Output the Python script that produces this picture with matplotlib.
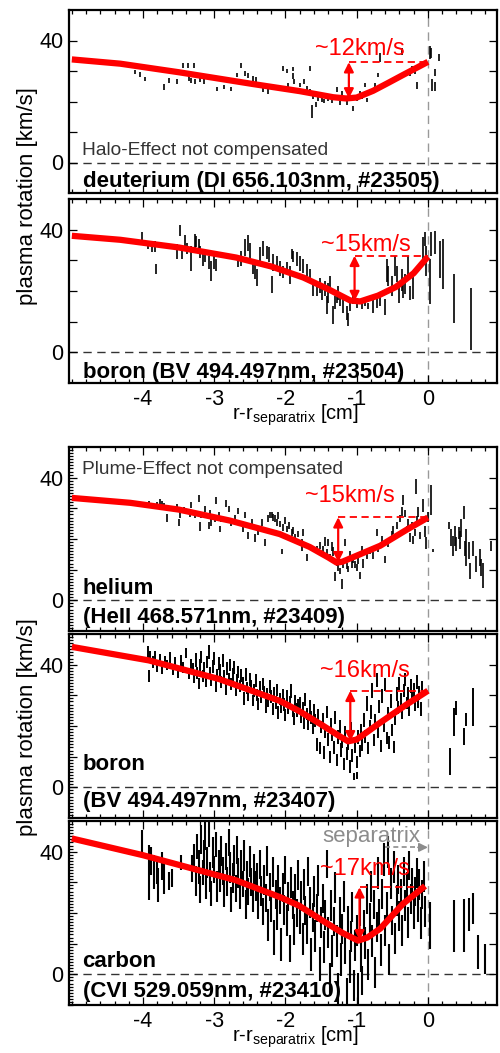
import numpy as np
import matplotlib.pyplot as plt
from matplotlib.ticker import MultipleLocator

plt.rcParams['font.family'] = ['Liberation Sans', 'DejaVu Sans']
plt.rcParams['mathtext.fontset'] = 'custom'
plt.rcParams['mathtext.rm'] = 'Liberation Sans'
plt.rcParams['axes.unicode_minus'] = False

# ---------------- panel 1: deuterium #23505 ----------------
d_x = [-4.11, -4.05, -3.97, -3.71, -3.63, -3.53, -3.44, -3.37, -3.36, -3.32,
       -3.28, -3.27, -3.20, -3.15, -2.96, -2.86, -2.77, -2.68, -2.63, -2.57,
       -2.52, -2.46, -2.41, -2.31, -2.24, -2.04, -1.98, -1.96, -1.90, -1.89,
       -1.88, -1.80, -1.74, -1.70, -1.66, -1.65, -1.63, -1.61, -1.57, -1.55,
       -1.49, -1.46, -1.40, -1.35, -1.28, -1.24, -1.21, -1.14, -1.05, -1.00,
       -0.96, -0.93, -0.88, -0.86, -0.81, -0.74, -0.70, -0.67, -0.36, -0.25,
       -0.22, -0.18, -0.16, 0.03, 0.05, 0.06, 0.10, 0.10, 0.16]
d_y = [29.6, 28.9, 27.4, 24.9, 27.0, 26.6, 31.7, 31.9, 27.6, 27.0,
       31.9, 26.5, 26.9, 26.5, 24.2, 24.7, 24.1, 28.7, 31.9, 29.2,
       28.4, 27.6, 27.3, 23.8, 23.4, 30.8, 30.1, 25.4, 28.4, 30.7,
       26.7, 25.4, 26.5, 24.3, 30.8, 23.5, 16.7, 21.6, 18.9, 21.1,
       20.7, 20.2, 21.0, 20.3, 23.8, 19.6, 22.7, 19.7, 17.8, 21.1,
       22.7, 21.6, 25.4, 20.5, 23.5, 25.4, 28.7, 34.4, 36.5, 29.2,
       30.8, 29.8, 25.2, 36.0, 36.0, 25.4, 29.5, 24.9, 34.4]
d_e = [0.7, 0.8, 0.65, 1.0, 0.8, 0.7, 0.8, 0.8, 0.8, 0.8,
       0.8, 0.8, 0.65, 0.8, 0.7, 0.65, 0.8, 0.8, 0.8, 0.8,
       0.8, 0.8, 0.8, 0.8, 0.9, 0.8, 0.65, 0.8, 0.9, 0.7,
       0.8, 0.8, 0.8, 0.8, 0.7, 0.75, 2.2, 0.8, 0.8, 0.8,
       0.7, 0.65, 0.7, 0.75, 0.8, 0.7, 0.8, 0.8, 0.8, 0.8,
       0.8, 0.8, 0.8, 0.8, 0.75, 0.8, 0.8, 1.6, 1.1, 0.8,
       0.8, 0.8, 1.1, 2.2, 1.6, 1.9, 1.1, 1.4, 1.1]
d_fx = [-5.0, -4.32, -3.5, -2.45, -1.8, -1.33, -1.15, -1.0, -0.77, -0.55, -0.35, 0.0]
d_fy = [33.8, 32.4, 29.6, 25.7, 23.4, 21.4, 21.0, 21.3, 23.5, 26.2, 28.7, 33.0]

# ---------------- panel 2: boron #23504 ----------------
b1_x = [-4.02, -3.93, -3.88, -3.83, -3.82, -3.53, -3.48, -3.46, -3.41, -3.39,
        -3.32, -3.27, -3.25, -3.22, -3.20, -3.16, -3.13, -3.08, -3.04, -3.01,
        -2.97, -2.66, -2.62, -2.57, -2.52, -2.50, -2.45, -2.43, -2.40, -2.36,
        -2.31, -2.26, -2.23, -2.19, -2.17, -2.12, -2.08, -2.03, -1.98, -1.94,
        -1.91, -1.89, -1.84, -1.80, -1.75, -1.70, -1.66, -1.61, -1.56, -1.52,
        -1.49, -1.45, -1.42, -1.40, -1.37, -1.33, -1.31, -1.28, -1.26, -1.24,
        -1.19, -1.14, -1.12, -1.10, -1.05, -1.00, -0.93, -0.89, -0.84, -0.77,
        -0.72, -0.67, -0.60, -0.58, -0.56, -0.51, -0.46, -0.44, -0.40, -0.37,
        -0.35, -0.32, -0.28, -0.25, -0.21, -0.07, -0.04, -0.02, 0.03, 0.05,
        0.10, 0.17, 0.21, 0.36, 0.60]
b1_y = [37.9, 35.0, 34.2, 34.5, 27.1, 32.8, 39.8, 32.0, 35.6, 33.9,
        30.7, 36.1, 36.1, 34.8, 32.8, 30.4, 30.7, 29.3, 26.6, 29.3,
        28.5, 29.6, 30.7, 34.2, 35.6, 33.1, 27.9, 26.3, 24.4, 31.5,
        33.9, 32.6, 31.8, 22.2, 29.3, 29.3, 27.4, 26.3, 27.4, 25.2,
        32.0, 31.2, 30.4, 29.0, 28.2, 26.8, 24.9, 20.6, 20.0, 21.9,
        19.4, 20.8, 15.4, 19.4, 22.5, 12.1, 16.2, 18.1, 19.4, 17.3,
        15.1, 12.9, 10.7, 15.4, 17.0, 16.2, 15.4, 16.2, 15.1, 15.1,
        16.5, 16.5, 14.8, 26.6, 24.9, 21.6, 28.2, 25.5, 19.4, 23.5,
        21.1, 22.2, 28.2, 19.4, 21.9, 33.9, 36.9, 29.8, 23.0, 35.3,
        35.8, 30.4, 28.7, 17.5, 11.0]
b1_e = [1.5, 1.4, 1.6, 1.9, 1.6, 2.5, 1.75, 1.6, 2.5, 1.9,
        4.1, 2.5, 1.9, 2.2, 1.9, 2.2, 1.4, 2.2, 3.3, 2.2,
        1.9, 1.9, 2.5, 2.7, 2.5, 2.7, 2.5, 2.5, 2.7, 2.7,
        2.5, 2.2, 2.5, 2.7, 2.7, 2.2, 2.5, 1.9, 1.9, 3.0,
        1.6, 1.9, 2.2, 2.5, 2.2, 1.9, 2.2, 2.2, 1.6, 2.5,
        2.2, 2.5, 3.0, 3.3, 2.5, 3.0, 2.2, 1.9, 2.2, 2.2,
        2.2, 2.2, 2.2, 1.9, 1.4, 1.6, 1.4, 1.1, 1.1, 2.2,
        1.9, 1.4, 2.5, 3.8, 3.3, 3.3, 3.3, 2.7, 3.3, 3.6,
        3.3, 3.3, 3.3, 2.2, 4.6, 3.6, 2.2, 4.9, 7.4, 3.8,
        3.8, 6.0, 8.2, 7.9, 10.1]
b1_fx = [-5.0, -4.32, -3.5, -2.69, -2.2, -1.75, -1.4, -1.09, -0.95, -0.7, -0.45, -0.2, 0.0]
b1_fy = [38.0, 36.7, 34.2, 30.9, 28.0, 24.4, 20.6, 16.9, 16.6, 18.5, 21.3, 25.8, 31.2]

# ---------------- panel 3: helium #23409 ----------------
he_x = [-3.92, -3.88, -3.81, -3.76, -3.74, -3.71, -3.67, -3.62, -3.53, -3.50,
        -3.48, -3.43, -3.34, -3.32, -3.27, -3.22, -3.20, -3.18, -3.13, -3.08,
        -3.06, -3.04, -2.99, -2.97, -2.94, -2.92, -2.90, -2.83, -2.80, -2.76,
        -2.71, -2.66, -2.59, -2.57, -2.52, -2.47, -2.43, -2.38, -2.33, -2.29,
        -2.24, -2.22, -2.19, -2.17, -2.15, -2.12, -2.10, -2.08, -2.05, -2.04,
        -2.01, -1.98, -1.95, -1.91, -1.89, -1.87, -1.82, -1.77, -1.75, -1.70,
        -1.56, -1.52, -1.47, -1.45, -1.42, -1.40, -1.38, -1.35, -1.33, -1.31,
        -1.28, -1.26, -1.23, -1.21, -1.19, -1.165, -1.14, -1.12, -1.095, -1.07,
        -1.05, -1.02, -1.00, -0.98, -0.955, -0.93, -0.91, -0.86, -0.81, -0.77,
        -0.72, -0.70, -0.65, -0.60, -0.56, -0.51, -0.49, -0.44, -0.39, -0.37,
        -0.35, -0.32, -0.30, -0.28, -0.25, -0.23, -0.21, -0.18, -0.17, -0.16,
        -0.135, -0.11, -0.065, -0.04, -0.02, 0.005, 0.05, 0.075, 0.29, 0.33,
        0.35, 0.38, 0.40, 0.43, 0.45, 0.47, 0.50, 0.52, 0.54, 0.57,
        0.59, 0.64, 0.68, 0.73, 0.75, 0.78, 0.89]
he_y = [31.5, 30.9, 31.2, 32.3, 31.7, 30.9, 26.9, 30.1, 30.7, 25.5,
        27.8, 29.6, 28.2, 31.0, 27.8, 33.3, 24.1, 27.8, 29.9, 24.4,
        28.4, 25.5, 26.7, 32.6, 27.8, 23.4, 26.3, 31.5, 29.8, 25.5,
        26.7, 29.1, 23.3, 27.8, 21.1, 25.5, 20.3, 22.3, 25.5, 18.9,
        26.6, 27.8, 27.8, 27.1, 26.6, 25.5, 27.6, 24.9, 15.9, 23.8,
        26.0, 23.3, 24.4, 22.2, 22.7, 20.5, 21.6, 18.1, 22.2, 14.0,
        16.7, 17.8, 16.4, 19.2, 15.3, 18.9, 14.0, 17.5, 15.9, 7.7,
        12.3, 10.7, 9.6, 5.2, 12.1, 18.9, 11.2, 10.2, 15.1, 11.8,
        13.4, 11.8, 10.7, 13.2, 8.0, 16.4, 12.1, 14.8, 16.2, 14.5,
        22.2, 16.7, 20.0, 13.4, 18.4, 21.6, 23.0, 24.4, 26.6, 29.0,
        32.6, 28.2, 23.3, 25.2, 20.5, 24.4, 19.7, 22.2, 37.2, 26.0,
        28.7, 21.1, 30.9, 22.4, 18.6, 27.1, 32.6, 16.2, 24.4, 20.5,
        17.8, 21.1, 18.4, 21.9, 19.7, 23.5, 28.7, 17.0, 17.3, 16.2,
        9.6, 17.0, 11.8, 14.0, 10.7, 8.2, 17.8]
he_e = [0.8, 0.9, 0.8, 0.8, 0.8, 0.9, 1.3, 0.8, 0.8, 1.1,
        1.0, 0.8, 1.1, 1.0, 1.0, 1.1, 1.4, 1.0, 1.0, 1.1,
        0.9, 1.1, 1.0, 1.1, 1.0, 1.0, 0.8, 1.1, 1.1, 1.1,
        1.0, 0.9, 1.1, 1.0, 1.1, 1.1, 1.4, 1.0, 1.1, 1.1,
        1.1, 1.0, 1.0, 1.1, 1.1, 1.1, 1.1, 1.1, 0.8, 1.1,
        1.1, 1.1, 1.1, 1.1, 1.1, 1.1, 1.1, 1.9, 1.1, 1.1,
        1.1, 1.1, 1.4, 1.4, 1.4, 1.1, 1.1, 1.4, 1.4, 1.4,
        1.1, 1.1, 1.1, 1.6, 1.4, 1.1, 1.1, 1.1, 1.1, 1.1,
        1.1, 1.1, 1.1, 1.4, 1.1, 1.4, 1.4, 1.4, 1.1, 1.1,
        1.1, 1.1, 1.1, 1.1, 1.1, 1.1, 1.4, 1.1, 1.1, 1.4,
        1.6, 1.1, 1.1, 1.4, 1.6, 1.1, 1.4, 1.1, 2.5, 1.6,
        1.6, 1.1, 2.2, 1.9, 1.9, 1.6, 4.9, 0.5, 1.1, 2.7,
        3.3, 3.3, 2.2, 1.9, 3.0, 3.0, 2.2, 2.5, 6.0, 2.7,
        2.7, 2.5, 2.7, 2.7, 2.7, 4.1, 1.6]
he_fx = [-5.0, -4.18, -3.5, -2.78, -2.08, -1.66, -1.4, -1.28, -1.2, -0.67, -0.3, 0.0]
he_fy = [33.4, 31.8, 29.6, 26.0, 21.6, 17.4, 14.0, 12.3, 12.6, 17.8, 23.0, 27.0]

# ---------------- panel 4: boron #23407 ----------------
b2_x = [-3.93, -3.92, -3.90, -3.86, -3.83, -3.80, -3.76, -3.73, -3.69, -3.66,
        -3.62, -3.58, -3.55, -3.51, -3.47, -3.44, -3.40, -3.36, -3.33,
        -3.30, -3.28, -3.26, -3.24, -3.22, -3.20, -3.18, -3.16, -3.14, -3.12,
        -3.10, -3.08, -3.06, -3.04, -3.02, -3.00, -2.98, -2.96, -2.94, -2.92,
        -2.90, -2.88, -2.86, -2.84, -2.82, -2.80, -2.78, -2.76, -2.74, -2.72,
        -2.70, -2.68, -2.66, -2.64, -2.62,
        -2.60, -2.58, -2.56, -2.54, -2.52, -2.50, -2.48, -2.46, -2.44, -2.42,
        -2.40, -2.38, -2.36, -2.34, -2.32, -2.30, -2.28, -2.26, -2.24, -2.22,
        -2.20, -2.18, -2.16, -2.14, -2.12, -2.10, -2.08, -2.06, -2.04, -2.02,
        -2.00, -1.98, -1.96, -1.94, -1.92, -1.90, -1.88, -1.86, -1.84, -1.82,
        -1.80, -1.78, -1.76, -1.74, -1.72, -1.70, -1.68, -1.66, -1.64, -1.62,
        -1.60, -1.58, -1.56, -1.54, -1.52, -1.50, -1.48, -1.46, -1.44, -1.42,
        -1.40, -1.38, -1.36, -1.34, -1.32, -1.30, -1.28, -1.26, -1.24, -1.22,
        -1.20, -1.18, -1.16,
        -1.14, -1.12, -1.10, -1.08, -1.06, -1.04, -1.02, -1.00, -0.99, -0.98, -0.96,
        -0.94, -0.92, -0.90, -0.88, -0.86, -0.84, -0.82, -0.80, -0.78, -0.76,
        -0.74, -0.72, -0.70, -0.68, -0.66, -0.64, -0.62, -0.60, -0.58, -0.56,
        -0.54, -0.52, -0.50, -0.48, -0.46,
        -0.44, -0.42, -0.40, -0.38, -0.36, -0.34, -0.32, -0.30, -0.28, -0.26,
        -0.24, -0.22, -0.20, -0.18, -0.16, -0.14, -0.12, -0.10, -0.08,
        0.31, 0.36, 0.40, 0.50, 0.54, 0.63]
b2_y = [44.0, 36.2, 42.5, 40.8, 43.0, 39.5, 41.8, 38.6, 41.0, 39.8,
        42.4, 38.2, 40.6, 37.6, 41.4, 39.2, 43.8, 37.0, 40.2,
        38.5, 35.8, 41.6, 37.4, 33.8, 39.8, 42.6, 36.2, 38.8, 34.6,
        40.8, 44.2, 37.2, 35.0, 39.4, 42.0, 33.2, 36.8, 40.4, 38.0,
        34.4, 41.4, 36.2, 32.0, 38.8, 35.4, 40.0, 33.6, 36.8, 39.0,
        31.8, 35.2, 37.6, 33.0, 36.4,
        34.0, 29.0, 36.8, 32.4, 30.2, 35.2, 33.0, 28.4, 31.6, 34.8,
        30.0, 27.2, 32.6, 29.4, 33.8, 31.0, 26.6, 30.4, 28.2, 32.8,
        29.6, 25.6, 30.8, 27.6, 31.8, 24.4, 28.8, 26.4, 30.2, 27.0,
        23.6, 29.4, 25.8, 27.8, 31.4, 24.8, 22.4, 28.0, 25.2, 26.8,
        27.4, 23.0, 25.8, 21.2, 28.6, 24.0, 20.6, 26.2, 22.8, 19.4,
        25.0, 21.8, 14.0, 23.4, 12.8, 19.6, 22.0, 11.4, 18.2, 24.6,
        15.6, 9.8, 20.4, 17.0, 13.0, 22.8, 8.8, 16.4, 19.8, 12.2,
        14.8, 7.6, 17.8,
        11.0, 14.2, 6.8, 19.0, 10.4, 3.6, 13.4, 8.2, 3.8, 16.4, 11.8,
        18.6, 14.0, 22.0, 16.6, 27.4, 12.8, 19.8, 24.6, 31.6, 15.4,
        21.6, 35.0, 18.2, 26.4, 13.4, 29.8, 20.4, 33.6, 16.0, 24.0,
        14.6, 28.2, 18.6, 13.2, 22.6,
        30.4, 26.0, 33.8, 28.6, 24.4, 31.6, 35.2, 27.4, 30.6, 25.2,
        33.0, 29.2, 31.8, 26.8, 34.4, 28.0, 30.8, 25.6, 32.6,
        8.3, 21.3, 25.9, 16.6, 22.1, 26.2]
b2_e = [2.0, 1.9, 1.8, 2.0, 1.6, 1.8, 1.8, 1.6, 1.9, 1.7,
        1.8, 1.6, 1.8, 1.9, 1.7, 1.8, 1.7, 1.7, 1.8,
        2.0, 1.8, 2.2, 2.0, 1.8, 2.2, 2.0, 2.0, 2.2, 2.0,
        2.0, 2.2, 2.0, 1.8, 2.2, 2.0, 2.0, 1.8, 2.0, 2.2,
        2.0, 2.0, 2.0, 1.8, 2.2, 2.0, 2.0, 2.0, 2.0, 2.2,
        2.0, 1.8, 2.0, 2.0, 2.2,
        2.0, 2.2, 2.0, 2.0, 2.2, 2.0, 2.0, 1.8, 2.2, 2.0,
        2.0, 2.0, 2.2, 2.0, 2.0, 2.0, 2.2, 2.0, 2.0, 2.2,
        2.0, 2.0, 2.0, 2.2, 2.0, 2.0, 2.0, 2.2, 2.0, 2.0,
        2.0, 2.2, 2.0, 2.0, 2.2, 2.0, 2.0, 2.0, 2.2, 2.0,
        2.2, 2.0, 2.0, 2.2, 2.0, 2.0, 2.0, 2.2, 2.0, 2.0,
        2.2, 2.0, 2.0, 2.2, 2.0, 2.0, 2.2, 2.0, 2.2, 2.0,
        2.2, 2.0, 2.2, 2.0, 2.2, 2.0, 2.0, 2.2, 2.0, 2.2,
        2.0, 2.0, 2.2,
        2.2, 2.0, 2.2, 2.2, 2.0, 1.2, 2.2, 2.0, 1.2, 2.2, 2.0,
        2.2, 2.0, 2.2, 2.0, 2.4, 2.0, 2.2, 2.2, 2.4, 2.0,
        2.2, 2.4, 2.2, 2.2, 2.0, 2.4, 2.2, 2.2, 2.0, 2.2,
        2.0, 2.2, 2.0, 2.0, 2.2,
        2.2, 2.2, 2.2, 2.0, 2.2, 2.2, 2.2, 2.0, 2.2, 2.0,
        2.2, 2.0, 2.2, 2.0, 2.2, 2.0, 2.2, 2.2, 2.2,
        4.4, 4.7, 2.2, 2.75, 2.2, 6.3]
b2_fx = [-5.0, -3.92, -2.93, -2.08, -1.81, -1.5, -1.25, -1.12, -1.0, -0.67, -0.3, 0.0]
b2_fy = [45.8, 41.4, 35.3, 28.2, 24.9, 20.5, 16.8, 15.0, 15.6, 21.1, 27.0, 31.5]

# ---------------- panel 5: carbon #23410 ----------------
c_x = [-4.01, -3.92, -3.89, -3.85, -3.81, -3.79, -3.74, -3.71, -3.64, -3.59,
       -3.47, -3.31, -3.13,
       -3.28, -3.26, -3.24, -3.22, -3.20, -3.18, -3.16, -3.14, -3.12, -3.10,
       -3.08, -3.06, -3.04, -3.02, -3.00, -2.98, -2.96, -2.94, -2.92, -2.90,
       -2.88, -2.86, -2.84, -2.82, -2.80, -2.78, -2.76, -2.74, -2.72, -2.70,
       -2.68, -2.66, -2.64, -2.62, -2.60, -2.58, -2.56, -2.54, -2.52, -2.50,
       -2.48, -2.46, -2.44, -2.42,
       -2.40, -2.38, -2.36, -2.34, -2.32, -2.30, -2.28, -2.26, -2.24, -2.22,
       -2.20, -2.18, -2.16, -2.14, -2.12, -2.10, -2.08, -2.06, -2.04, -2.02,
       -2.00, -1.98, -1.96, -1.94, -1.92, -1.90, -1.88, -1.86, -1.84, -1.82,
       -1.80, -1.78, -1.76, -1.74, -1.72, -1.70, -1.68, -1.66, -1.64, -1.62,
       -1.60, -1.58, -1.56, -1.54, -1.52, -1.50, -1.48, -1.46, -1.44, -1.42,
       -1.40, -1.38, -1.36, -1.34, -1.32, -1.30, -1.28, -1.26, -1.24, -1.22,
       -1.20, -1.18, -1.16, -1.14, -1.12, -1.10, -1.08, -1.06, -1.04, -1.02,
       -1.00, -0.98, -0.96, -0.94, -0.92, -0.90, -0.88, -0.86,
       -0.84, -0.82, -0.80, -0.78, -0.76, -0.74, -0.72, -0.70, -0.68, -0.66,
       -0.64, -0.62, -0.60, -0.58, -0.56, -0.54, -0.52, -0.50, -0.48, -0.46,
       -0.44,
       -0.42, -0.40, -0.38, -0.36, -0.34, -0.32, -0.30, -0.28, -0.26, -0.24,
       -0.22, -0.20, -0.18, -0.16, -0.14, -0.12, -0.10, -0.08, -0.06, -0.04,
       0.03, 0.36, 0.50, 0.57, 0.64, 0.71, 0.80]
c_y = [42.5, 33.2, 37.0, 33.4, 33.7, 29.1, 35.4, 31.5, 30.4, 31.5,
       36.5, 34.5, 45.5,
       38.0, 30.4, 41.6, 35.0, 27.6, 44.0, 33.2, 38.6, 29.0, 36.4,
       45.6, 31.8, 26.4, 39.8, 34.2, 42.4, 28.6, 36.0, 31.0, 40.2,
       33.6, 26.8, 38.4, 30.2, 43.0, 34.8, 24.4, 31.4, 37.2, 28.0,
       40.6, 33.0, 25.8, 35.6, 29.4, 38.8, 22.8, 32.2, 27.0, 36.8,
       30.0, 24.6, 34.2, 28.8,
       31.6, 23.0, 35.8, 27.2, 20.4, 30.8, 25.0, 37.0, 16.2, 28.6,
       22.2, 33.4, 12.0, 26.0, 19.6, 31.0, 24.0, 9.6, 28.4, 21.0,
       34.0, 17.6, 25.4, 8.4, 30.0, 22.6, 14.6, 27.8, 20.0, 32.4,
       18.0, 25.6, 11.4, 29.4, 20.8, 15.0, 33.6, 23.4, 6.4, 18.6,
       27.0, 12.6, 21.6, 30.6, 3.4, 16.8, 24.8, 9.0, 19.4, 36.0,
       13.6, -1.8, 22.4, 7.6, 17.2, 28.4, 11.0, -4.6, 20.2, 4.8,
       14.8, 25.4, 8.6, -6.0, 17.4, 2.6, 12.4, 22.0, -3.6, 9.4,
       14.4, -5.0, 20.6, 6.0, -2.0, 16.0, 10.2, 24.6,
       3.2, 18.2, 28.6, 11.0, 22.8, 0.6, 15.4, 33.0, 19.6, 8.0,
       26.2, 37.4, 14.2, 22.0, 40.0, 4.8, 29.6, 17.6, 35.0, 11.6,
       24.0,
       31.0, 19.0, 26.6, 14.4, 33.6, 22.4, 28.8, 17.0, 35.4, 24.6,
       30.2, 19.8, 27.0, 33.0, 21.6, 29.4, 16.6, 26.0, 32.0, 20.4,
       16.0, 15.7, 16.0, 19.5, 21.5, 7.2, 5.0]
c_e = [4.6, 9.0, 4.6, 5.5, 4.1, 5.5, 4.6, 5.2, 3.0, 3.0,
       2.5, 4.4, 5.0,
       4.5, 5.0, 4.0, 5.5, 4.5, 4.8, 4.0, 5.2, 4.5, 5.0,
       4.2, 4.8, 4.0, 5.0, 4.5, 4.0, 5.0, 4.6, 4.2, 5.0,
       4.6, 5.0, 4.4, 4.8, 4.5, 5.0, 4.2, 4.8, 5.0, 4.4,
       4.6, 5.0, 4.6, 4.8, 4.2, 5.0, 4.6, 4.8, 4.4, 5.0,
       4.6, 4.2, 5.0, 4.8,
       4.8, 5.0, 4.6, 4.8, 4.4, 5.0, 4.6, 4.8, 5.2, 4.6,
       5.0, 4.8, 5.6, 4.6, 5.0, 4.8, 4.4, 5.4, 4.8, 5.0,
       4.6, 5.0, 4.8, 4.4, 5.0, 4.6, 5.0, 4.8, 4.6, 5.0,
       5.0, 4.8, 5.2, 5.0, 4.6, 5.0, 4.8, 5.0, 5.4, 4.8,
       5.0, 5.2, 4.6, 5.0, 5.6, 5.0, 4.8, 5.2, 5.0, 4.6,
       5.0, 5.4, 5.0, 5.2, 4.8, 5.0, 5.2, 5.0, 5.0, 5.4,
       4.8, 5.0, 5.2, 4.8, 5.0, 5.4, 5.0, 4.8, 5.0, 5.2,
       5.0, 5.4, 5.0, 5.2, 4.8, 5.0, 5.2, 5.0,
       5.2, 5.0, 5.0, 5.2, 4.8, 5.0, 5.0, 5.2, 5.0, 5.2,
       5.0, 5.4, 5.0, 4.8, 5.2, 5.0, 5.0, 4.8, 5.2, 5.0,
       5.0,
       4.8, 5.0, 4.6, 5.0, 4.8, 5.0, 4.6, 5.0, 4.8, 5.0,
       4.6, 5.0, 4.8, 5.0, 4.6, 5.0, 5.2, 4.8, 5.0, 5.0,
       7.7, 8.5, 8.7, 5.5, 5.0, 5.5, 4.9]
c_fx = [-5.0, -4.01, -2.7, -2.08, -1.81, -1.52, -1.2, -0.98, -0.85, -0.67, -0.35, -0.04]
c_fy = [44.3, 38.9, 30.7, 25.2, 22.4, 18.1, 13.5, 11.0, 12.0, 14.9, 23.0, 28.8]

# annotation values: arrow x, arrow top, arrow bottom, text, text x, text y
arrow_x = [-1.11, -1.03, -1.26, -1.09, -0.96]
arrow_top = [32.9, 31.5, 27.1, 31.5, 28.4]
arrow_bot = [21.0, 16.7, 12.4, 15.0, 11.1]
dash_end = [0.0, 0.0, 0.0, 0.0, -0.04]
delta_txt = ['~12km/s', '~15km/s', '~15km/s', '~16km/s', '~17km/s']
delta_x = [-0.95, -0.87, -1.10, -0.88, -0.88]
delta_y = [35.4, 33.1, 32.0, 35.9, 32.5]

# species labels: (text, y baseline) per panel
labels = [
    [('deuterium (DI 656.103nm, #23505)', -7.9)],
    [('boron (BV 494.497nm, #23504)', -8.4)],
    [('helium', 2.0), ('(HeII 468.571nm, #23409)', -7.3)],
    [('boron', 5.6), ('(BV 494.497nm, #23407)', -6.5)],
    [('carbon', 2.4), ('(CVI 529.059nm, #23410)', -7.4)],
]
notes = {0: ('Halo-Effect not compensated', 2.6),
         2: ('Plume-Effect not compensated', 41.3)}

# panel frames in pixels (top, bottom) of a 500x1053 canvas
W, H = 500, 1053
frames = [(10, 193), (199, 383), (447, 631), (634, 818), (821, 1005)]
left_px, right_px = 69, 497

series = [(d_x, d_y, d_e, d_fx, d_fy),
          (b1_x, b1_y, b1_e, b1_fx, b1_fy),
          (he_x, he_y, he_e, he_fx, he_fy),
          (b2_x, b2_y, b2_e, b2_fx, b2_fy),
          (c_x, c_y, c_e, c_fx, c_fy)]
bar_lw = [1.2, 1.2, 1.2, 1.4, 1.5]

fig = plt.figure(figsize=(W / 100, H / 100), dpi=100)

for i, (top, bot) in enumerate(frames):
    ax = fig.add_axes([left_px / W, 1 - bot / H, (right_px - left_px) / W, (bot - top) / H])
    x, y, e, fx, fy = [np.asarray(v, float) for v in series[i]]

    ax.axhline(0, color='#333333', lw=1.0, ls=(0, (6, 4)), zorder=1)
    ax.axvline(0, color='#999999', lw=1.0, ls=(0, (6, 4)), zorder=1)
    ax.vlines(x, y - e, y + e, colors='black', lw=bar_lw[i], zorder=2)
    ax.plot(fx, fy, color='red', lw=4.5, solid_capstyle='butt', zorder=4)

    # red delta annotation
    ax.plot([arrow_x[i], dash_end[i]], [arrow_top[i], arrow_top[i]],
            color='red', lw=1.3, ls=(0, (4, 2.5)), zorder=5)
    ax.annotate('', xy=(arrow_x[i], arrow_bot[i]), xytext=(arrow_x[i], arrow_top[i]),
                arrowprops=dict(arrowstyle='<|-|>', color='red', lw=1.6,
                                mutation_scale=14, shrinkA=0, shrinkB=0), zorder=5)
    ax.text(delta_x[i], delta_y[i], delta_txt[i], color='red', fontsize=17,
            ha='center', va='baseline', zorder=6)

    for txt, yb in labels[i]:
        ax.text(-4.85, yb, txt, fontsize=16, fontweight='bold', ha='left', va='baseline')
    if i in notes:
        ax.text(-4.86, notes[i][1], notes[i][0], fontsize=13.8,
                color='#333333', ha='left', va='baseline')

    if i == 4:
        ax.text(-0.8, 43.3, 'separatrix', color='#8c8c8c', fontsize=16,
                ha='center', va='baseline')
        ax.plot([-0.6, -0.12], [41.4, 41.4], color='#8c8c8c', lw=1.2, ls=(0, (3, 2)))
        ax.annotate('', xy=(0.0, 41.4), xytext=(-0.14, 41.4),
                    arrowprops=dict(arrowstyle='-|>', color='#8c8c8c', lw=1.2,
                                    mutation_scale=13, shrinkA=0, shrinkB=0))

    ax.set_xlim(-5.04, 0.97)
    ax.set_ylim(-10, 50)
    ax.set_xticks([-4, -3, -2, -1, 0])
    ax.xaxis.set_minor_locator(MultipleLocator(0.2))
    ax.set_yticks([0, 10, 20, 30, 40])
    ax.set_yticklabels(['0', '', '', '', '40'])
    if i >= 2:
        ax.yaxis.set_minor_locator(MultipleLocator(1))
    ax.tick_params(which='both', direction='in', top=True, right=True, width=0.9)
    ax.tick_params(which='major', length=5.5, labelsize=15.5, pad=4)
    ax.tick_params(axis='x', which='major', pad=4.5)
    ax.tick_params(which='minor', length=2.8)
    if i >= 2:
        ax.tick_params(axis='y', which='minor', right=False)
    ax.tick_params(labelbottom=(i in (1, 4)))
    for s in ax.spines.values():
        s.set_linewidth(1.6)
    if i in (1, 4):
        ax.text(0.528, -0.247, r'r-r$_{\mathrm{separatrix}}$ [cm]', transform=ax.transAxes,
                fontsize=14.5, ha='center', va='bottom')

fig.text(28 / W, 1 - 196 / H, 'plasma rotation [km/s]', rotation=90,
         fontsize=16, ha='center', va='center')
fig.text(28 / W, 1 - 727 / H, 'plasma rotation [km/s]', rotation=90,
         fontsize=16, ha='center', va='center')

fig.savefig('out.png', dpi=100)
